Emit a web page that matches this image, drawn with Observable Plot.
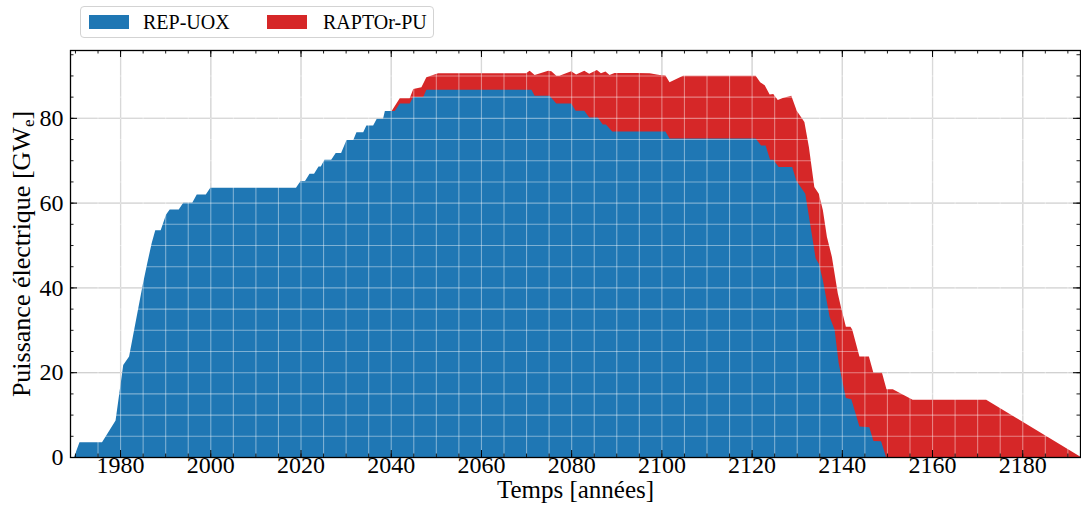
<!DOCTYPE html>
<html>
<head>
<meta charset="utf-8">
<script src="https://cdn.jsdelivr.net/npm/d3@7"></script>
<script src="https://cdn.jsdelivr.net/npm/@observablehq/plot@0.6"></script>
<style>
  html, body { margin: 0; padding: 0; background: #fff; }
  #wrap { position: relative; width: 1081px; height: 518px; overflow: hidden;
          font-family: "Liberation Serif", "Times New Roman", serif; color: #000; }
  #chart { position: absolute; left: 0; top: 0; }
  #legend { position: absolute; left: 80px; top: 6px; width: 354px; height: 32px;
            border: 1px solid #d3d3d3; border-radius: 4px; background: rgba(255,255,255,0.85);
            box-sizing: border-box; }
  .sw { position: absolute; top: 8px; width: 40px; height: 14px; }
  .lt { position: absolute; top: 0; line-height: 31px; font-size: 20px; white-space: nowrap; }
  #ylabel { position: absolute; left: 22px; top: 254px; transform: translate(-50%, -50%) rotate(-90deg);
            font-size: 26px; white-space: nowrap; }
  #ylabel sub { font-size: 17px; vertical-align: -4px; line-height: 0; }
</style>
</head>
<body>
<div id="wrap">
  <div id="chart"></div>
  <div id="legend"></div>
  <div id="ylabel"></div>
</div>
<script>
// ---- Series and labels ----
const seriesNames = ["REP-UOX", "RAPTOr-PU"];
const seriesColors = ["#1f77b4", "#d62728"];

// REP-UOX installed power (GWe)
const uoxYears = [1969.8, 1971, 1976, 1979, 1980.7, 1982, 1985, 1986, 1987, 1987.8, 1989, 1990.2, 1991, 1993, 1994, 1996, 1997, 1999, 2000,
  2019, 2020, 2021, 2022, 2023, 2024, 2024.5, 2025.3, 2026.8, 2027.8, 2029, 2030.2, 2031.7, 2032.4, 2033.9, 2034.6, 2036.1, 2036.9, 2038.3, 2038.7,
  2040.9, 2042, 2044.2, 2045, 2047.2, 2047.9, 2071.2, 2071.9, 2075.2, 2076.7, 2080, 2081, 2082.9, 2084, 2085.9, 2087, 2087.7, 2089.1,
  2100.9, 2101.8, 2120.9, 2122.1, 2123.1, 2124.1, 2124.8, 2126.0, 2129.0, 2129.9, 2130.6, 2131.9, 2133.2, 2134.2, 2134.9, 2135.8,
  2137.3, 2138.4, 2139.3, 2140.9, 2142.1, 2143.9, 2146.1, 2147.0, 2148.7, 2149.8];
const uoxPower = [0, 3.5, 3.5, 8.6, 21.7, 23.7, 40.5, 45.6, 50.4, 53.5, 53.5, 57.2, 58.4, 58.4, 60, 60, 61.9, 61.9, 63.5,
  63.5, 65.1, 65.1, 66.8, 66.8, 68.5, 68.5, 70.1, 70.1, 71.7, 71.7, 74.8, 74.8, 76.6, 76.6, 78.2, 78.2, 79.8, 79.8, 81.6,
  81.6, 83.4, 83.4, 84.9, 84.9, 86.6, 86.6, 85.2, 85.2, 83.4, 83.4, 81.7, 81.7, 80.1, 80.1, 78.4, 78.4, 76.8,
  76.8, 75.1, 75.1, 73.5, 73.5, 70.1, 70.1, 68.4, 68.4, 65.2, 64.1, 62.1, 53.5, 46.8, 45.6, 41.7,
  33.0, 30.0, 22.1, 13.9, 13.6, 7.2, 7.0, 3.8, 3.7, 0];

// Top of the stack: REP-UOX + RAPTOr-PU (GWe), where RAPTOr-PU is present
const totalYears = [2040.2, 2042.0, 2044.2, 2045.0, 2046.8, 2047.9, 2050.5, 2070.0, 2070.8, 2071.9, 2074.9, 2075.6, 2076.7, 2077.4,
  2080.0, 2081.1, 2082.9, 2084.0, 2085.7, 2086.6, 2087.6, 2088.5, 2089.6, 2094.4, 2097.4, 2099.6, 2100.9, 2101.8, 2104.8,
  2120.9, 2121.9, 2122.9, 2124.0, 2124.8, 2125.8, 2126.9, 2128.8, 2130.0, 2131.7, 2132.7, 2133.9, 2134.9, 2135.8, 2136.7,
  2137.8, 2139.1, 2139.8, 2140.9, 2141.9, 2142.3, 2143.9, 2146.0, 2147.0, 2148.9, 2149.9, 2151.3, 2155.7, 2172.0, 2192.8];
const totalPower = [81.6, 84.6, 84.6, 86.8, 87.2, 89.6, 90.5, 90.5, 91.1, 90.1, 91.1, 91.0, 89.9, 89.9,
  91.0, 90.2, 91.1, 90.4, 91.3, 90.5, 90.9, 90.1, 90.6, 90.6, 90.5, 90.1, 90.0, 88.4, 89.9,
  89.9, 88.4, 87.7, 85.5, 85.6, 84.2, 84.7, 85.2, 81.7, 79.0, 73.1, 63.7, 62.1, 58.2, 51.9,
  47.2, 38.6, 35.4, 30.7, 30.7, 30.1, 23.7, 23.7, 19.9, 19.9, 16.0, 16.0, 13.5, 13.5, 0.1];

const xTickValues = [1980, 2000, 2020, 2040, 2060, 2080, 2100, 2120, 2140, 2160, 2180];
const yTickValues = [0, 20, 40, 60, 80];
const xLabel = "Temps [années]";
const yLabelMain = "Puissance électrique [GW";
const yLabelSub = "e";
const yLabelEnd = "]";

// ---- Build tables ----
const uox = uoxYears.map((t, i) => ({year: t, power: uoxPower[i]}));
const total = totalYears.map((t, i) => ({year: t, power: totalPower[i]}));

const W = 1081, H = 518, mt = 50, mb = 61, ml = 70, mr = 1;
const pw = W - ml - mr, ph = H - mt - mb;
const xDomain = [1968.9, 2192.8], yDomain = [0, 96];
const minorX = d3.range(1970, 2193, 5);
const minorY = d3.range(0, 96, 5);
const majLen = 7, minLen = 3.5;

const plot = Plot.plot({
  width: W, height: H,
  marginTop: mt, marginBottom: mb, marginLeft: ml, marginRight: mr,
  style: {background: "white", fontFamily: "'Liberation Serif', 'Times New Roman', serif", color: "black", overflow: "visible"},
  x: {domain: xDomain, axis: null},
  y: {domain: yDomain, axis: null},
  marks: [
    Plot.ruleX(xTickValues, {stroke: "#bdbdbd", strokeWidth: 1.2}),
    Plot.ruleY(yTickValues, {stroke: "#bdbdbd", strokeWidth: 1.2}),
    Plot.areaY(total, {x: "year", y: "power", fill: seriesColors[1], curve: "linear"}),
    Plot.areaY(uox, {x: "year", y: "power", fill: seriesColors[0], curve: "linear"}),
    Plot.ruleX(minorX, {stroke: "white", strokeOpacity: 0.42, strokeWidth: 1.1}),
    Plot.ruleY(minorY, {stroke: "white", strokeOpacity: 0.42, strokeWidth: 1.1}),
    // inward ticks on all four sides
    Plot.tickX(xTickValues, {x: d => d, insetTop: ph - majLen, stroke: "black", strokeWidth: 1}),
    Plot.tickX(xTickValues, {x: d => d, insetBottom: ph - majLen, stroke: "black", strokeWidth: 1}),
    Plot.tickX(minorX, {x: d => d, insetTop: ph - minLen, stroke: "black", strokeWidth: 0.9}),
    Plot.tickX(minorX, {x: d => d, insetBottom: ph - minLen, stroke: "black", strokeWidth: 0.9}),
    Plot.tickY(yTickValues, {y: d => d, insetRight: pw - majLen, stroke: "black", strokeWidth: 1}),
    Plot.tickY(yTickValues, {y: d => d, insetLeft: pw - majLen, stroke: "black", strokeWidth: 1}),
    Plot.tickY(minorY, {y: d => d, insetRight: pw - minLen, stroke: "black", strokeWidth: 0.9}),
    Plot.tickY(minorY, {y: d => d, insetLeft: pw - minLen, stroke: "black", strokeWidth: 0.9}),
    Plot.frame({stroke: "black", strokeWidth: 1.3}),
    // tick labels
    Plot.text(xTickValues, {x: d => d, frameAnchor: "bottom", dy: 15, text: d => String(d), fontSize: 24, fill: "black"}),
    Plot.text(yTickValues, {y: d => d, frameAnchor: "left", dx: -7, textAnchor: "end", text: d => String(d), fontSize: 24, fill: "black"}),
    // x axis label
    Plot.text([xLabel], {frameAnchor: "bottom", dy: 40, text: d => d, fontSize: 25, fill: "black"})
  ]
});
document.getElementById("chart").appendChild(plot);

// ---- Legend (above the plot) ----
const legend = d3.select("#legend");
const swX = [8, 186], txX = [62, 242];
seriesNames.forEach((name, i) => {
  legend.append("div").attr("class", "sw").style("left", swX[i] + "px").style("background", seriesColors[i]);
  legend.append("div").attr("class", "lt").style("left", txX[i] + "px").text(name);
});

// ---- Y label with subscript ----
const yl = d3.select("#ylabel");
yl.append("span").text(yLabelMain);
yl.append("sub").text(yLabelSub);
yl.append("span").text(yLabelEnd);
</script>
</body>
</html>
